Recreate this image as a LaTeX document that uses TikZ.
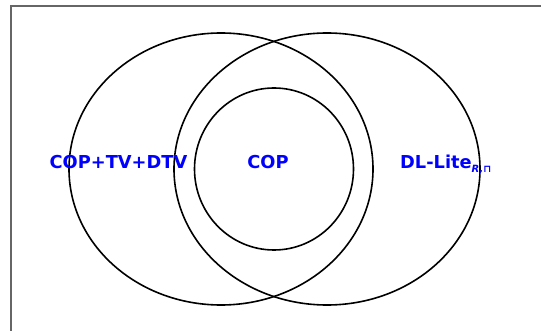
\documentclass[tikz,border=0pt]{standalone}
\usepackage{fontspec}
\setmainfont{DejaVu Sans}
\begin{document}
\begin{tikzpicture}[x=1pt,y=-1pt,
  setline/.style={draw=black,line width=1.6pt},
  lbl/.style={text=blue,font=\fontsize{17.8}{19}\selectfont\bfseries,inner sep=0pt}]
\useasboundingbox (0,0) rectangle (541,331);
\draw[gray!80!black,line width=1.5pt] (11,345) -- (11,6) -- (555,6);
\draw[setline] (221,169) ellipse [x radius=152,y radius=136];
\draw[setline] (327,169) ellipse [x radius=153,y radius=136];
\draw[setline] (274,169) ellipse [x radius=79.5,y radius=81];
\node[lbl,anchor=base] (a) at (118.5,168.5) {COP+TV+DTV};
\node[lbl,anchor=base] (b) at (268,168.5) {COP};
\node[lbl,anchor=base west] (c) at (400,168.5) {DL-Lite\raisebox{-0.4ex}{\fontsize{10}{11}\selectfont\itshape R,\upshape ⊓}};
\end{tikzpicture}
\end{document}
